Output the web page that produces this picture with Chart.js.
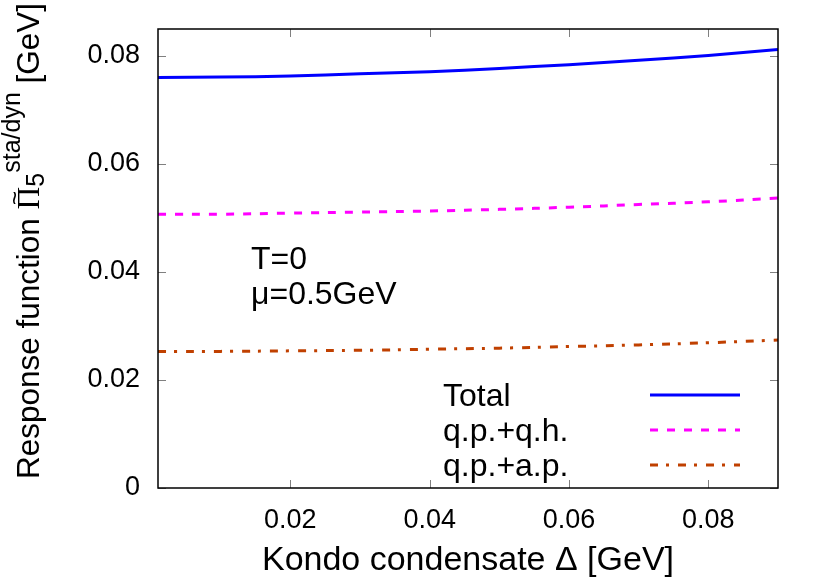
<!DOCTYPE html>
<html>
<head>
<meta charset="utf-8">
<script src="https://cdn.jsdelivr.net/npm/chart.js@4/dist/chart.umd.min.js"></script>
<style>
  html, body { margin: 0; padding: 0; background: #fff; }
  #chart { display: block; }
</style>
</head>
<body>
<canvas id="chart" width="830" height="581"></canvas>
<script>
// values
const deltaValues = [0.001, 0.01, 0.02, 0.03, 0.04, 0.05, 0.06, 0.07, 0.08, 0.09];
const totalValues = [0.0760, 0.0761, 0.0763, 0.0767, 0.0771, 0.0777, 0.0784, 0.0792, 0.0801, 0.0812];
const qpqhValues = [0.0507, 0.0507, 0.0509, 0.0511, 0.0513, 0.0516, 0.0520, 0.0525, 0.0530, 0.0537];
const qpapValues = [0.0253, 0.0253, 0.0254, 0.0255, 0.0257, 0.0259, 0.0262, 0.0265, 0.0269, 0.0274];
const seriesLabels = ['Total', 'q.p.+q.h.', 'q.p.+a.p.'];
const xTickValues = [0.02, 0.04, 0.06, 0.08];
const yTickValues = [0, 0.02, 0.04, 0.06, 0.08];
const noteLines = ['T=0', 'μ=0.5GeV'];

const SANS = "'Liberation Sans', Arial, sans-serif";
const SERIF = "'Liberation Serif', 'Times New Roman', serif";

function toPoints(values) {
    return values.map((v, i) => ({ x: deltaValues[i], y: v }));
}

// frame, inward ticks on all four sides, key and text labels (gnuplot look)
const gnuplotDecor = {
    id: 'gnuplotDecor',
    afterDatasetsDraw(chart) {
        const ctx = chart.ctx;
        const area = chart.chartArea;
        const xs = chart.scales.x;
        const ys = chart.scales.y;
        const tickLen = 8;

        ctx.save();
        ctx.strokeStyle = '#808080';
        ctx.lineWidth = 1;
        ctx.beginPath();
        xTickValues.forEach(v => {
            const px = Math.round(xs.getPixelForValue(v)) + 0.5;
            ctx.moveTo(px, area.bottom); ctx.lineTo(px, area.bottom - tickLen);
            ctx.moveTo(px, area.top); ctx.lineTo(px, area.top + tickLen);
        });
        yTickValues.forEach(v => {
            const py = Math.round(ys.getPixelForValue(v)) + 0.5;
            ctx.moveTo(area.left, py); ctx.lineTo(area.left + tickLen, py);
            ctx.moveTo(area.right, py); ctx.lineTo(area.right - tickLen, py);
        });
        ctx.stroke();

        ctx.strokeStyle = '#000';
        ctx.lineWidth = 1.5;
        ctx.strokeRect(area.left, area.top, area.right - area.left, area.bottom - area.top);

        // key
        ctx.fillStyle = '#000';
        ctx.font = '32px ' + SANS;
        ctx.textAlign = 'left';
        ctx.textBaseline = 'alphabetic';
        chart.data.datasets.forEach((ds, i) => {
            const base = 406 + i * 35;
            ctx.fillText(ds.label, 443, base);
            ctx.save();
            ctx.strokeStyle = ds.borderColor;
            ctx.lineWidth = ds.borderWidth;
            ctx.setLineDash(ds.borderDash || []);
            ctx.beginPath();
            ctx.moveTo(650, base - 11);
            ctx.lineTo(740, base - 11);
            ctx.stroke();
            ctx.restore();
        });

        // parameter note
        ctx.fillText(noteLines[0], 251, 269);
        ctx.fillText(noteLines[1], 251, 304);

        // rotated y title with tilde, subscript and superscript
        ctx.save();
        ctx.translate(39, 241);
        ctx.rotate(-Math.PI / 2);
        const mainFont = '31.5px ' + SANS;
        const smallFont = '25px ' + SANS;
        const piFont = '31.5px ' + SERIF;
        ctx.font = mainFont; const w1 = ctx.measureText('Response function ').width;
        ctx.font = piFont; const wPi = ctx.measureText('Π').width;
        ctx.font = smallFont; const w5 = ctx.measureText('5').width;
        const wSup = ctx.measureText('sta/dyn').width;
        ctx.font = mainFont; const wUnit = ctx.measureText(' [GeV]').width;
        let x = -(w1 + wPi + w5 + wSup + wUnit) / 2;
        ctx.font = mainFont; ctx.fillText('Response function ', x, 0); x += w1;
        ctx.font = piFont; ctx.fillText('Π', x, 0);
        ctx.font = '24px ' + SANS;
        ctx.textAlign = 'center';
        ctx.fillText('~', x + wPi / 2, -16);
        ctx.textAlign = 'left';
        x += wPi;
        ctx.font = smallFont; ctx.fillText('5', x, 5); x += w5;
        ctx.fillText('sta/dyn', x, -19); x += wSup;
        ctx.font = mainFont; ctx.fillText(' [GeV]', x, 0);
        ctx.restore();

        ctx.restore();
    }
};

new Chart(document.getElementById('chart').getContext('2d'), {
    type: 'line',
    data: {
        datasets: [
            {
                label: seriesLabels[0],
                data: toPoints(totalValues),
                borderColor: '#0000ff',
                borderWidth: 3,
            },
            {
                label: seriesLabels[1],
                data: toPoints(qpqhValues),
                borderColor: '#ff00ff',
                borderWidth: 3,
                borderDash: [8, 9],
            },
            {
                label: seriesLabels[2],
                data: toPoints(qpapValues),
                borderColor: '#c04000',
                borderWidth: 3,
                borderDash: [8, 8, 3, 9],
            },
        ],
    },
    options: {
        responsive: false,
        animation: false,
        devicePixelRatio: 1,
        layout: { padding: { top: 29, right: 52, left: 0, bottom: 0 } },
        elements: {
            point: { radius: 0 },
            line: { tension: 0.4, fill: false },
        },
        plugins: {
            legend: { display: false },
            tooltip: { enabled: false },
        },
        scales: {
            x: {
                type: 'linear',
                min: 0.001,
                max: 0.09,
                grid: { display: false, drawTicks: false },
                border: { display: false },
                afterBuildTicks: s => { s.ticks = xTickValues.map(v => ({ value: v })); },
                afterFit: s => {
                    s.height = 93;
                    s.paddingLeft = 0; s.paddingRight = 0;
                    s.paddingTop = 0; s.paddingBottom = 0;
                },
                ticks: {
                    color: '#000',
                    padding: 16,
                    maxRotation: 0,
                    font: { family: SANS, size: 27 },
                    callback: v => v.toFixed(2),
                },
                title: {
                    display: true,
                    text: 'Kondo condensate Δ [GeV]',
                    color: '#000',
                    font: { family: SANS, size: 34 },
                    padding: { top: 0, bottom: 0 },
                },
            },
            y: {
                type: 'linear',
                min: 0,
                max: 0.085,
                grid: { display: false, drawTicks: false },
                border: { display: false },
                afterBuildTicks: s => { s.ticks = yTickValues.map(v => ({ value: v })); },
                afterFit: s => {
                    s.width = 158;
                    s.paddingLeft = 0; s.paddingRight = 0;
                    s.paddingTop = 0; s.paddingBottom = 0;
                },
                ticks: {
                    color: '#000',
                    padding: 18,
                    font: { family: SANS, size: 27 },
                    callback: v => (v === 0 ? '0' : v.toFixed(2)),
                },
            },
        },
    },
    plugins: [gnuplotDecor],
});
</script>
</body>
</html>
